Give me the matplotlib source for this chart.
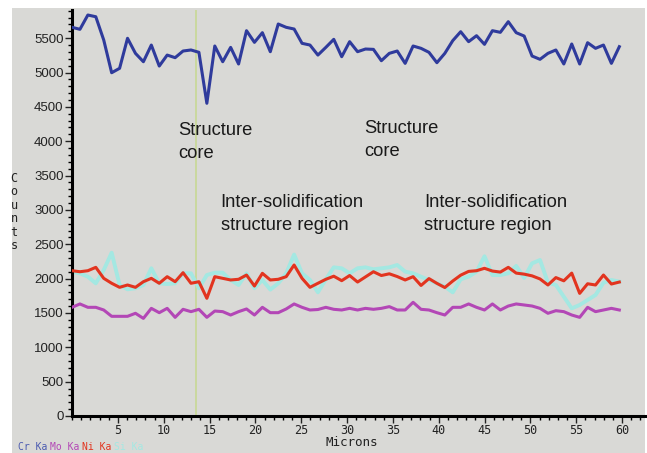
import numpy as np
import matplotlib.pyplot as plt
from matplotlib.patches import Rectangle
from matplotlib.ticker import MultipleLocator

# Line scan: counts per element along the traverse (70 steps over ~59.7 microns)
microns = np.linspace(0, 59.7, 70)

cr_counts = [5658, 5629, 5837, 5812, 5473, 4997, 5061, 5498, 5279, 5157,
             5400, 5094, 5254, 5216, 5313, 5328, 5294, 4552, 5386, 5157,
             5366, 5124, 5609, 5439, 5580, 5303, 5706, 5658, 5633, 5425,
             5400, 5254, 5366, 5483, 5230, 5449, 5303, 5342, 5337, 5172,
             5279, 5313, 5133, 5386, 5352, 5294, 5143, 5279, 5464, 5594,
             5449, 5536, 5410, 5609, 5585, 5740, 5580, 5531, 5240, 5192,
             5279, 5328, 5124, 5415, 5124, 5434, 5352, 5400, 5133, 5376]

ni_counts = [2115, 2100, 2115, 2164, 2004, 1932, 1873, 1907, 1873, 1955,
             2004, 1932, 2028, 1955, 2086, 1932, 1955, 1713, 2028, 2004,
             1980, 1990, 2052, 1892, 2077, 1980, 1990, 2028, 2198, 2004,
             1873, 1932, 1990, 2035, 1970, 2045, 1950, 2025, 2100, 2045,
             2070, 2030, 1980, 2028, 1900, 2000, 1931, 1870, 1965, 2050,
             2105, 2115, 2150, 2110, 2095, 2164, 2080, 2065, 2040, 1995,
             1907, 2015, 1968, 2080, 1785, 1925, 1907, 2052, 1921, 1950]

si_counts = [2101, 2077, 2028, 1931, 2125, 2377, 1907, 1844, 1859, 1907,
             2150, 1931, 1921, 1931, 2077, 2077, 1859, 2052, 2086, 2086,
             1980, 1907, 2077, 1860, 1980, 1840, 1931, 2077, 2350, 2077,
             1980, 1800, 1990, 2164, 2150, 2077, 2150, 2164, 2135, 2150,
             2164, 2198, 2101, 2077, 2028, 1980, 1931, 1883, 1800, 1990,
             2028, 2101, 2325, 2052, 2052, 2077, 2185, 2010, 2222, 2271,
             1940, 1907, 1737, 1567, 1616, 1689, 1761, 1940, 1980, 1956]

mo_counts = [1582, 1631, 1582, 1582, 1543, 1451, 1451, 1451, 1495, 1421,
             1567, 1504, 1567, 1436, 1553, 1519, 1553, 1436, 1528, 1519,
             1470, 1519, 1558, 1470, 1582, 1504, 1504, 1558, 1631, 1582,
             1543, 1550, 1582, 1553, 1543, 1567, 1543, 1567, 1553, 1567,
             1592, 1543, 1543, 1655, 1553, 1543, 1504, 1470, 1582, 1582,
             1631, 1582, 1543, 1631, 1543, 1601, 1631, 1616, 1601, 1567,
             1495, 1533, 1519, 1470, 1436, 1582, 1519, 1543, 1567, 1543]

marker_x = 13.5

region_labels = [(11.6, 3990, "Structure\ncore"),
                 (31.9, 4020, "Structure\ncore"),
                 (16.2, 2940, "Inter-solidification\nstructure region"),
                 (38.4, 2940, "Inter-solidification\nstructure region")]

W, H = 647, 453
fig = plt.figure(figsize=(W / 100, H / 100), dpi=100)
fig.patch.set_facecolor("white")
panel = "#d9d9d6"
fig.patches.append(Rectangle((12 / W, 0), (645 - 12) / W, (H - 8) / H,
                             transform=fig.transFigure, facecolor=panel,
                             edgecolor="none", zorder=-5))

ax = fig.add_axes([72 / W, 37 / H, (645 - 72) / W, (416 - 10) / H])
ax.set_zorder(2)
ax.set_facecolor(panel)
ax.set_xlim(0, 62.5)
ax.set_ylim(0, 5910)

ax.axvline(marker_x, color="#c9d89a", linewidth=1.3, zorder=1)

ax.plot(microns, si_counts, color="#a4e8e2", linewidth=2.8, zorder=2)
ax.plot(microns, ni_counts, color="#e2341f", linewidth=2.2, zorder=3)
ax.plot(microns, mo_counts, color="#b347b6", linewidth=2.2, zorder=3)
ax.plot(microns, cr_counts, color="#2f3b9c", linewidth=2.2, zorder=3)

for x, y, s in region_labels:
    ax.text(x, y, s, fontsize=13.2, family="Liberation Sans", color="#1a1a1a",
            va="center", ha="left", linespacing=1.5)

# axes styling ----------------------------------
for side in ("top", "right"):
    ax.spines[side].set_visible(False)
for side in ("left", "bottom"):
    ax.spines[side].set_linewidth(2.2)
    ax.spines[side].set_color("black")

ax.yaxis.set_major_locator(MultipleLocator(500))
ax.yaxis.set_minor_locator(MultipleLocator(100))
ax.xaxis.set_minor_locator(MultipleLocator(1))
ax.tick_params(axis="y", which="major", length=5, width=1, direction="out",
               labelsize=9.5, pad=1, colors="#222222")
ax.tick_params(axis="y", which="minor", length=3, width=1, direction="out")
ax.tick_params(axis="x", which="major", length=5, width=1, direction="out",
               labelsize=8.5, pad=0.5, colors="#222222")
ax.tick_params(axis="x", which="minor", length=3, width=1, direction="out")
ax.set_xticks(np.arange(5, 61, 5))
ax.set_xticklabels([f"{t:g}" for t in np.arange(5, 61, 5)],
                   family="DejaVu Sans Mono")
for lab in ax.get_yticklabels():
    lab.set_family("Liberation Sans")

fig.text(352 / W, 1 - 443 / H, "Microns", family="DejaVu Sans Mono",
         fontsize=9, ha="center", va="center", color="#222222")
fig.text(14 / W, 1 - 212 / H, "C\no\nu\nn\nt\ns", family="DejaVu Sans Mono",
         fontsize=8.5, ha="center", va="center", linespacing=1.05,
         color="#222222")

# element key along the bottom edge
key = [("Cr Ka", "#4a5ab0"), ("Mo Ka", "#b347b6"), ("Ni Ka", "#e2341f"),
       ("Si Ka", "#a4e8e2")]
kx = 18
for name, col in key:
    fig.text(kx / W, 1 - 447 / H, name, family="DejaVu Sans Mono",
             fontsize=7, ha="left", va="center", color=col)
    kx += 32

fig.savefig("out.png", dpi=100, facecolor=fig.get_facecolor())
